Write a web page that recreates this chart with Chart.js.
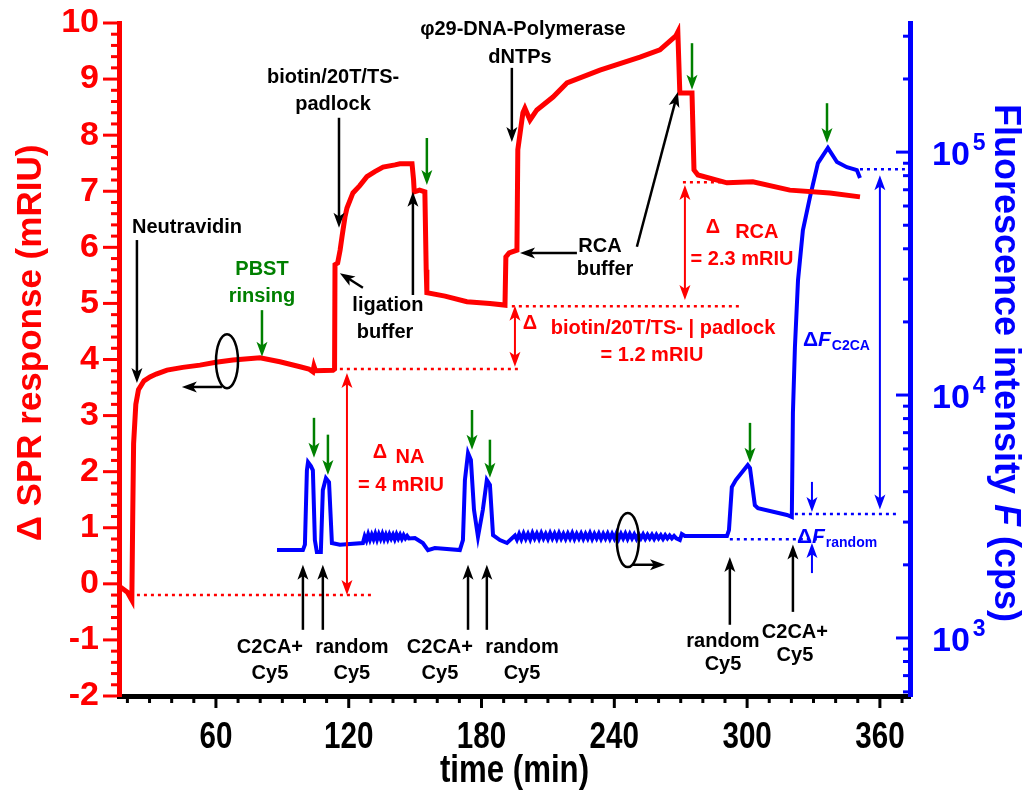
<!DOCTYPE html>
<html lang="en">
<head>
<meta charset="UTF-8">
<title>SPR response and fluorescence intensity vs time</title>
<script src="https://cdn.jsdelivr.net/npm/chart.js"></script>
<style>
  html, body { margin: 0; padding: 0; background: #fff; }
  #wrap { width: 1030px; height: 796px; }
</style>
</head>
<body>
<div id="wrap"><canvas id="c" width="1030" height="796"></canvas></div>
<script>
// ---- data ----
const sprTime  = [16.6, 20.0, 22.0, 22.4, 22.8, 23.8, 25.0, 27.5, 30.2, 33.0, 37.9, 45.0, 52.8, 60.0, 67.7, 79.9, 88.9, 98.0, 102.0, 103.8, 104.3, 105.0, 112.9, 113.6,
                  113.8, 115.0, 116.1, 117.0, 118.3, 119.2, 121.9, 125.0, 128.2, 131.8, 135.5, 140.9, 143.1, 148.6, 149.3, 149.6, 152.0, 154.4, 155.0, 155.3, 163.5, 173.4, 183.8, 190.6,
                  191.0, 192.5, 196.0, 196.4, 198.7, 199.6, 201.9, 205.0, 212.3, 218.6, 233.5, 251.6, 260.6, 267.8, 268.7, 269.6, 275.1, 276.0, 277.8,
                  290.9, 302.6, 319.3, 337.4, 351.0];
const sprValue = [-0.05, -0.15, -0.29, 1.2, 2.5, 3.2, 3.46, 3.62, 3.69, 3.74, 3.81, 3.86, 3.90, 3.95, 3.99, 4.03, 3.96, 3.87, 3.83, 3.78, 3.88, 3.80, 3.81, 3.83,
                  5.69, 5.72, 5.95, 6.20, 6.54, 6.70, 6.97, 7.10, 7.26, 7.35, 7.43, 7.47, 7.49, 7.49, 7.20, 6.99, 7.02, 6.99, 5.60, 5.19, 5.13, 5.03, 5.00, 4.97,
                  5.83, 5.90, 5.95, 7.74, 8.40, 8.48, 8.27, 8.45, 8.68, 8.93, 9.16, 9.39, 9.52, 9.77, 9.84, 8.75, 8.75, 7.38, 7.29,
                  7.15, 7.17, 7.02, 6.97, 6.90];

const fluoTime  = [87.6, 99.3, 100.2, 101.1, 101.6, 102.9, 103.8, 104.7, 105.6, 107.4, 108.3, 109.7, 111.1, 112.4, 116.0,
                   126.4, 127.2, 128.0, 128.8, 129.6, 130.4, 131.2, 132.0, 132.8, 133.6, 134.4, 135.2, 136.0, 136.8, 137.6, 138.4,
                   139.2, 140.0, 140.8, 141.6, 142.4, 143.2, 144.0, 144.8, 145.6, 146.4, 147.2, 149.9, 153.5, 155.8, 158.9,
                   170.2, 171.6, 172.5, 173.9, 175.2, 176.6, 178.4, 180.6, 182.4, 183.8, 185.2, 188.3, 191.5,
                   195.1, 196, 197, 198, 199, 200, 201, 202, 203, 204, 205, 206, 207, 208, 209, 210, 211, 212, 213, 214,
                   215, 216, 217, 218, 219, 220, 221, 222, 223, 224, 225, 226, 227, 228, 229, 230, 231, 232, 233, 234,
                   235, 236, 237, 238, 239, 240, 241, 242, 243, 244, 245, 246, 247, 248, 249, 250, 251, 252, 253, 254,
                   255, 256, 257, 258, 259, 260, 261, 262, 263, 264, 265, 266, 267, 268, 269.6, 270.5, 271.9,
                   290.9, 291.8, 293.1, 294.9, 300.3, 301.3, 303.5, 304.9, 318.0, 320.2, 320.7, 321.6, 323.0,
                   325.2, 328.4, 332.0, 336.5, 340.6, 345.1, 349.6, 351.0];
const fluoValue = [2300, 2300, 2420, 4900, 5290, 5100, 4900, 2530, 2260, 2260, 4060, 4550, 4380, 2460, 2420,
                   2460, 2620, 2520, 2670, 2540, 2660, 2550, 2680, 2540, 2670, 2560, 2680, 2550, 2660, 2550, 2670,
                   2570, 2660, 2550, 2670, 2570, 2660, 2560, 2650, 2570, 2630, 2570, 2580, 2460, 2300, 2345,
                   2300, 2530, 4470, 5770, 5400, 3370, 2610, 3370, 4470, 4265, 2650, 2530, 2460,
                   2640, 2540, 2680, 2550, 2690, 2560, 2680, 2550, 2700, 2570, 2690, 2560, 2700, 2570, 2680, 2560, 2700, 2570, 2690, 2560,
                   2700, 2570, 2680, 2560, 2690, 2570, 2700, 2560, 2680, 2570, 2690, 2560, 2680, 2570, 2700, 2560, 2680, 2570, 2690, 2560,
                   2680, 2570, 2690, 2560, 2680, 2570, 2700, 2560, 2680, 2570, 2690, 2560, 2680, 2570, 2670, 2560, 2670, 2570, 2670, 2560,
                   2660, 2570, 2660, 2560, 2660, 2570, 2650, 2560, 2650, 2570, 2640, 2570, 2630, 2570, 2530, 2680, 2630,
                   2630, 2780, 4180, 4470, 5150, 5010, 3520, 3425, 3210, 3150, 8430, 15700, 29700,
                   47700, 65300, 90100, 104000, 91000, 86700, 84300, 78200];

const timeTicks = [60, 120, 180, 240, 300, 360];
const sprTicks  = [-2, -1, 0, 1, 2, 3, 4, 5, 6, 7, 8, 9, 10];
const fluoTicks = [1000, 10000, 100000];

// ---- annotations, anchored on [time, SPR] (or [time, F] where noted) ----
const blackArrows = [
  [24.3, 6.13, 24.3, 3.58], [62.7, 3.51, 44.6, 3.51], [115.6, 8.31, 115.6, 6.35], [126.4, 5.28, 116.0, 5.54],
  [149.0, 5.15, 149.0, 6.99], [193.7, 9.2, 193.7, 7.88], [223.1, 5.9, 197.4, 5.9], [250.2, 6.01, 268.7, 8.77],
  [99.3, -0.82, 99.3, 0.34], [108.3, -0.82, 108.3, 0.34], [173.9, -0.82, 173.9, 0.34], [182.4, -0.82, 182.4, 0.34],
  [292.2, -0.73, 292.2, 0.48], [320.7, -0.5, 320.7, 0.7], [248.4, 0.34, 262.9, 0.34]
];
const greenArrows = [
  [80.8, 4.88, 4.05], [155.3, 7.95, 7.11], [275.1, 9.64, 8.81], [104.3, 2.96, 2.25], [110.6, 2.66, 1.94],
  [175.7, 3.1, 2.39], [183.8, 2.57, 1.89], [301.3, 2.87, 2.16], [336.1, 8.57, 7.86]
];
const redDotted = [[24.3, 130.4, -0.2], [116.0, 197.4, 3.83], [193.7, 296.8, 4.95], [271.0, 300.0, 7.16]];
const redSpans  = [[119.2, 3.76, -0.2], [195.1, 4.96, 3.87], [271.9, 7.11, 5.06]];
const blueDotted = [[292.2, 331.5, 2550], [321.6, 367.7, 3236], [351.0, 371.3, 85100]];   // F axis
const blackLabels = [
  ['Neutravidin', 46.9, 6.35], ['biotin/20T/TS-', 112.9, 9.02], ['padlock', 112.9, 8.54],
  ['ligation', 137.7, 4.97], ['buffer', 136.4, 4.49], ['φ29-DNA-Polymerase', 198.7, 9.88], ['dNTPs', 197.4, 9.39],
  ['RCA', 233.5, 6.01], ['buffer', 235.8, 5.6],
  ['C2CA+', 84.4, -1.14], ['Cy5', 84.4, -1.59], ['random', 121.4, -1.14], ['Cy5', 121.4, -1.59],
  ['C2CA+', 161.2, -1.14], ['Cy5', 161.2, -1.59], ['random', 198.3, -1.14], ['Cy5', 198.3, -1.59],
  ['random', 289.1, -1.03], ['Cy5', 289.1, -1.44], ['C2CA+', 321.6, -0.86], ['Cy5', 321.6, -1.27]
];
const redLabels = [
  ['NA', 147.7, 2.25], ['= 4 mRIU', 143.6, 1.76],
  ['biotin/20T/TS- | padlock', 262.0, 4.56], ['= 1.2 mRIU', 257.0, 4.08],
  ['RCA', 304.4, 6.27], ['= 2.3 mRIU', 297.7, 5.79]
];
const redDeltas = [[134.1, 2.35], [201.9, 4.65], [284.6, 6.36]];

const FONT = '"Liberation Sans", Arial, sans-serif';
const RED = '#ff0000', BLUE = '#0000ff', GREEN = '#008000';

function arrowHead(ctx, x1, y1, x2, y2, hl, hw) {
  const a = Math.atan2(y2 - y1, x2 - x1), c = Math.cos(a), s = Math.sin(a);
  ctx.beginPath();
  ctx.moveTo(x2, y2);
  ctx.lineTo(x2 - c * hl + s * hw, y2 - s * hl - c * hw);
  ctx.lineTo(x2 - c * hl * 0.75, y2 - s * hl * 0.75);
  ctx.lineTo(x2 - c * hl - s * hw, y2 - s * hl + c * hw);
  ctx.closePath();
  ctx.fill();
}
function arrow(ctx, x1, y1, x2, y2, color, w, both) {
  const hl = 15, hw = 5.5;
  const a = Math.atan2(y2 - y1, x2 - x1), c = Math.cos(a), s = Math.sin(a);
  ctx.strokeStyle = color; ctx.fillStyle = color; ctx.lineWidth = w;
  ctx.beginPath();
  ctx.moveTo(both ? x1 + c * hl * 0.7 : x1, both ? y1 + s * hl * 0.7 : y1);
  ctx.lineTo(x2 - c * hl * 0.7, y2 - s * hl * 0.7);
  ctx.stroke();
  arrowHead(ctx, x1, y1, x2, y2, hl, hw);
  if (both) arrowHead(ctx, x2, y2, x1, y1, hl, hw);
}
function text(ctx, str, x, y, font, color, align, baseline) {
  ctx.font = font; ctx.fillStyle = color;
  ctx.textAlign = align || 'center'; ctx.textBaseline = baseline || 'middle';
  ctx.fillText(str, x, y);
}
// condensed bold text, as in the time axis
function narrow(ctx, str, x, y, size) {
  ctx.save();
  ctx.translate(x, y); ctx.scale(0.8, 1);
  text(ctx, str, 0, 0, 'bold ' + size + 'px ' + FONT, '#000', 'center', 'alphabetic');
  ctx.restore();
}

const decor = {
  id: 'decor',
  afterDraw(chart) {
    const { ctx, chartArea: a, scales } = chart;
    const X = scales.x, Y = scales.y, F = scales.f;
    const P = (t, v) => [X.getPixelForValue(t), Y.getPixelForValue(v)];
    ctx.save();

    // tick marks
    ctx.lineWidth = 3;
    ctx.strokeStyle = RED;
    for (let i = -10; i <= 50; i++) {
      const py = Y.getPixelForValue(i / 5), len = i % 5 === 0 ? 16 : 8;
      ctx.beginPath(); ctx.moveTo(a.left - 2, py); ctx.lineTo(a.left - len, py); ctx.stroke();
    }
    ctx.strokeStyle = '#000';
    for (let t = 20; t <= 370; t += 10) {
      const pxx = X.getPixelForValue(t), len = t % 60 === 0 ? 12 : 7;
      ctx.beginPath(); ctx.moveTo(pxx, a.bottom + 2); ctx.lineTo(pxx, a.bottom + len); ctx.stroke();
    }
    ctx.strokeStyle = BLUE;
    for (let d = 100; d <= 100000; d *= 10) {
      for (let m = 1; m <= 9; m++) {
        const v = m * d;
        if (v < F.min || v > F.max) continue;
        const py = F.getPixelForValue(v), len = m === 1 ? 14 : 7;
        ctx.beginPath(); ctx.moveTo(a.right - 2, py); ctx.lineTo(a.right - len, py); ctx.stroke();
      }
    }
    // time tick labels and title
    timeTicks.forEach(t => narrow(ctx, String(t), X.getPixelForValue(t), 748, 37));
    narrow(ctx, 'time (min)', (a.left + a.right) / 2, 782, 39);

    // right tick labels with superscript
    fluoTicks.forEach(v => {
      const py = F.getPixelForValue(v);
      text(ctx, '10', 932, py + 4, 'bold 34px ' + FONT, BLUE, 'left');
      const w = ctx.measureText('10').width;
      text(ctx, String(Math.round(Math.log10(v))), 935 + w, py - 8, 'bold 23px ' + FONT, BLUE, 'left');
    });

    // axis titles
    ctx.save();
    ctx.translate(31, 343); ctx.rotate(-Math.PI / 2);
    text(ctx, 'Δ SPR response (mRIU)', 0, 0, 'bold 35px ' + FONT, RED);
    ctx.restore();
    ctx.save();
    ctx.translate(1005, 363); ctx.rotate(Math.PI / 2);
    const parts = [['Fluorescence intensity ', 'bold'], ['F', 'italic bold'], [' (cps)', 'bold']];
    let total = 0;
    parts.forEach(p => { ctx.font = p[1] + ' 36px ' + FONT; total += ctx.measureText(p[0]).width; });
    let cx = -total / 2;
    parts.forEach(p => { text(ctx, p[0], cx, 0, p[1] + ' 36px ' + FONT, BLUE, 'left'); cx += ctx.measureText(p[0]).width; });
    ctx.restore();

    // dotted guide lines
    ctx.lineWidth = 2.5; ctx.setLineDash([3, 4]);
    ctx.strokeStyle = RED;
    redDotted.forEach(([t1, t2, v]) => {
      const [x1, y] = P(t1, v), [x2] = P(t2, v);
      ctx.beginPath(); ctx.moveTo(x1, y); ctx.lineTo(x2, y); ctx.stroke();
    });
    ctx.strokeStyle = BLUE;
    blueDotted.forEach(([t1, t2, v]) => {
      const y = F.getPixelForValue(v);
      ctx.beginPath(); ctx.moveTo(X.getPixelForValue(t1), y); ctx.lineTo(X.getPixelForValue(t2), y); ctx.stroke();
    });
    ctx.setLineDash([]);

    // arrows
    blackArrows.forEach(([t1, v1, t2, v2]) => { const [x1, y1] = P(t1, v1), [x2, y2] = P(t2, v2); arrow(ctx, x1, y1, x2, y2, '#000', 2.5); });
    greenArrows.forEach(([t, v1, v2]) => { const [x1, y1] = P(t, v1), [, y2] = P(t, v2); arrow(ctx, x1, y1, x1, y2, GREEN, 2.5); });
    redSpans.forEach(([t, v1, v2]) => { const [x1, y1] = P(t, v1), [, y2] = P(t, v2); arrow(ctx, x1, y1, x1, y2, RED, 2, true); });
    {
      const x = X.getPixelForValue(360);
      arrow(ctx, x, F.getPixelForValue(80400), x, F.getPixelForValue(3380), BLUE, 2, true);
      const xs = X.getPixelForValue(329.3);
      arrow(ctx, xs, F.getPixelForValue(4390), xs, F.getPixelForValue(3300), BLUE, 2);
      arrow(ctx, xs, F.getPixelForValue(1850), xs, F.getPixelForValue(2460), BLUE, 2);
    }

    // axis marker ellipses
    ctx.strokeStyle = '#000'; ctx.lineWidth = 2.5;
    [[65.0, 3.97], [246.1, 0.78]].forEach(([t, v]) => {
      const [x, y] = P(t, v);
      ctx.beginPath(); ctx.ellipse(x, y, 11, 27, 0, 0, Math.PI * 2); ctx.stroke();
    });

    // labels
    const lab = 'bold 20px ' + FONT;
    blackLabels.forEach(([s, t, v]) => { const [x, y] = P(t, v); text(ctx, s, x, y, lab, '#000'); });
    [['PBST', 80.8, 5.6], ['rinsing', 80.8, 5.12]].forEach(([s, t, v]) => { const [x, y] = P(t, v); text(ctx, s, x, y, lab, GREEN); });
    redLabels.forEach(([s, t, v]) => { const [x, y] = P(t, v); text(ctx, s, x, y, lab, RED); });
    redDeltas.forEach(([t, v]) => { const [x, y] = P(t, v); text(ctx, 'Δ', x, y, 'bold 20px ' + FONT, RED); });

    // ΔF labels
    const dF = (t, v, sub) => {
      let [x, y] = P(t, v);
      text(ctx, 'Δ', x, y, 'bold 21px ' + FONT, BLUE, 'left'); x += ctx.measureText('Δ').width;
      text(ctx, 'F', x, y, 'italic bold 21px ' + FONT, BLUE, 'left'); x += ctx.measureText('F').width + 1;
      text(ctx, sub, x, y + 6, 'bold 14px ' + FONT, BLUE, 'left');
    };
    dF(325.2, 4.35, 'C2CA');
    dF(322.5, 0.84, 'random');
    ctx.restore();
  }
};

const noEdgePad = s => { s.paddingTop = 0; s.paddingBottom = 0; s.paddingLeft = 0; s.paddingRight = 0; };

new Chart(document.getElementById('c'), {
  type: 'scatter',
  data: {
    datasets: [
      { label: 'SPR', data: sprTime.map((t, i) => ({ x: t, y: sprValue[i] })), yAxisID: 'y',
        showLine: true, borderColor: RED, borderWidth: 5, pointRadius: 0, tension: 0 },
      { label: 'Fluorescence', data: fluoTime.map((t, i) => ({ x: t, y: fluoValue[i] })), yAxisID: 'f',
        showLine: true, borderColor: BLUE, borderWidth: 4, pointRadius: 0, tension: 0 }
    ]
  },
  options: {
    responsive: false,
    animation: false,
    layout: { padding: { top: 23, left: 0, right: 0, bottom: 0 } },
    plugins: { legend: { display: false }, tooltip: { enabled: false } },
    scales: {
      x: {
        type: 'linear', position: 'bottom', min: 16.2, max: 373.6,
        afterBuildTicks: s => { s.ticks = timeTicks.map(v => ({ value: v })); },
        afterFit: s => { s.height = 100; noEdgePad(s); },
        grid: { display: false, drawTicks: false },
        border: { display: true, color: '#000', width: 5 },
        ticks: { display: false }
      },
      y: {
        type: 'linear', position: 'left', min: -2, max: 10,
        afterBuildTicks: s => { s.ticks = sprTicks.map(v => ({ value: v })); },
        afterFit: s => { s.width = 119; noEdgePad(s); },
        grid: { display: false, drawTicks: false },
        border: { display: true, color: RED, width: 5 },
        ticks: { color: RED, padding: 20, font: { family: FONT, weight: 'bold', size: 34 } }
      },
      f: {
        type: 'logarithmic', position: 'right', min: 577, max: 340000,
        afterBuildTicks: s => { s.ticks = fluoTicks.map(v => ({ value: v })); },
        afterFit: s => { s.width = 120; noEdgePad(s); },
        grid: { display: false, drawTicks: false },
        border: { display: true, color: BLUE, width: 5 },
        ticks: { display: false }
      }
    }
  },
  plugins: [decor]
});
</script>
</body>
</html>
